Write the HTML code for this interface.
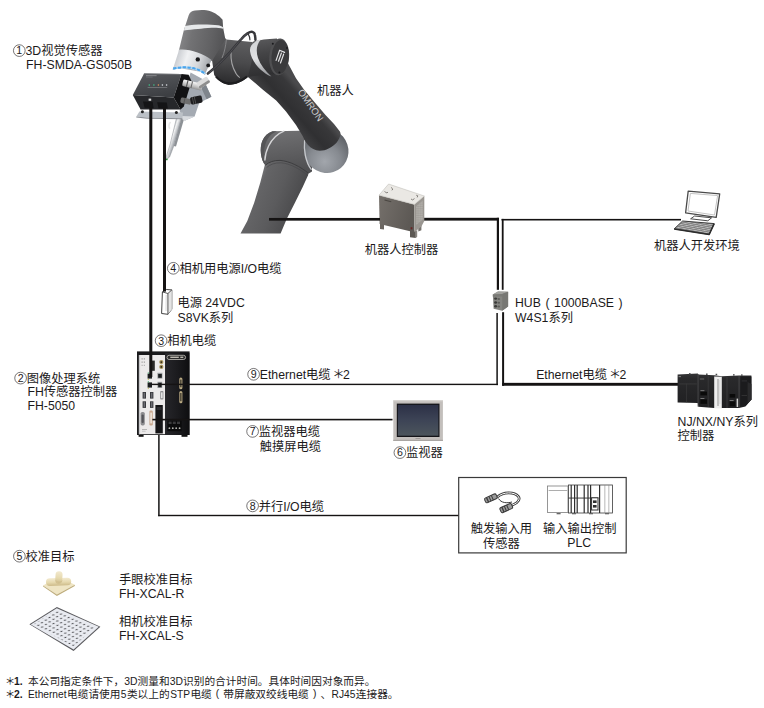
<!DOCTYPE html>
<html lang="zh"><head><meta charset="utf-8"><title>FH 3D vision system configuration</title>
<style>
html,body{margin:0;padding:0;background:#fff}
svg{display:block}
text{font-family:"Liberation Sans","Noto Sans CJK SC",sans-serif;white-space:pre}
</style></head><body>
<svg width="764" height="708" viewBox="0 0 764 708">
<defs>
<linearGradient id="fhb" x1="0" x2="1" y1="0" y2="0"><stop offset="0" stop-color="#26262a"/><stop offset="0.5" stop-color="#1b1b1e"/><stop offset="1" stop-color="#0e0e10"/></linearGradient>
<linearGradient id="rcf" x1="0" x2="1" y1="0" y2="0.3"><stop offset="0" stop-color="#75706b"/><stop offset="1" stop-color="#5d5955"/></linearGradient>
<pattern id="vent" width="1.6" height="1.8" patternUnits="userSpaceOnUse"><rect width="1.6" height="1.8" fill="#8f8b86"/><rect x="0.3" y="0.3" width="0.9" height="1.0" fill="#e6e4e0"/></pattern>
<pattern id="kb" width="1.9" height="1.5" patternUnits="userSpaceOnUse" patternTransform="skewX(-38) rotate(9)"><rect width="1.9" height="1.5" fill="#5a5a5a"/><rect x="0.3" y="0.25" width="1.35" height="0.95" fill="#e6e6e6"/></pattern>
<linearGradient id="plc" x1="0" x2="0" y1="0" y2="1"><stop offset="0" stop-color="#343436"/><stop offset="0.15" stop-color="#29292b"/><stop offset="1" stop-color="#1f1f21"/></linearGradient>
<linearGradient id="scr" x1="0" x2="0" y1="0" y2="1"><stop offset="0" stop-color="#2c3046"/><stop offset="0.5" stop-color="#3d4456"/><stop offset="1" stop-color="#4c555c"/></linearGradient>
<radialGradient id="bg1" cx="0.45" cy="0.35" r="0.7"><stop offset="0" stop-color="#f6ecd0"/><stop offset="1" stop-color="#d9c89a"/></radialGradient>
<linearGradient id="bg2" x1="0" x2="0" y1="0" y2="1"><stop offset="0" stop-color="#f3ead0"/><stop offset="0.55" stop-color="#e6d9ae"/><stop offset="1" stop-color="#cdbb8a"/></linearGradient>
<pattern id="dots" width="4.45" height="4.7" patternUnits="userSpaceOnUse" patternTransform="matrix(0.87 0.39 -0.80 0.55 30.6 624.0)"><rect width="4.45" height="4.7" fill="#e9ebf1"/><circle cx="2.2" cy="2.35" r="0.9" fill="#47474b"/></pattern>
<linearGradient id="lowg" gradientUnits="userSpaceOnUse" x1="251" y1="198" x2="296" y2="216"><stop offset="0" stop-color="#747476"/><stop offset="0.1" stop-color="#646466"/><stop offset="0.5" stop-color="#5b5b5d"/><stop offset="0.85" stop-color="#4e4e50"/><stop offset="1" stop-color="#444446"/></linearGradient>
<linearGradient id="upg" gradientUnits="userSpaceOnUse" x1="268" y1="112" x2="298" y2="86"><stop offset="0" stop-color="#5e5e60"/><stop offset="0.16" stop-color="#424244"/><stop offset="0.5" stop-color="#303032"/><stop offset="0.85" stop-color="#38383a"/><stop offset="1" stop-color="#4a4a4c"/></linearGradient>
<radialGradient id="ballg" gradientUnits="userSpaceOnUse" cx="318" cy="158" r="32"><stop offset="0" stop-color="#a2a6ac"/><stop offset="0.5" stop-color="#868a90"/><stop offset="1" stop-color="#5a5d62"/></radialGradient>
<linearGradient id="elbg" gradientUnits="userSpaceOnUse" x1="280" y1="131" x2="286" y2="172"><stop offset="0" stop-color="#707072"/><stop offset="0.4" stop-color="#636365"/><stop offset="1" stop-color="#505052"/></linearGradient>
<linearGradient id="j5g" gradientUnits="userSpaceOnUse" x1="262" y1="38" x2="268" y2="76"><stop offset="0" stop-color="#5a5a5c"/><stop offset="0.4" stop-color="#444446"/><stop offset="1" stop-color="#2e2e30"/></linearGradient>
<linearGradient id="wrg" gradientUnits="userSpaceOnUse" x1="182" y1="30" x2="224" y2="38"><stop offset="0" stop-color="#858587"/><stop offset="0.25" stop-color="#727274"/><stop offset="0.7" stop-color="#626264"/><stop offset="1" stop-color="#545456"/></linearGradient>
<linearGradient id="flg" gradientUnits="userSpaceOnUse" x1="175" y1="56" x2="212" y2="68"><stop offset="0" stop-color="#c4c7cc"/><stop offset="0.3" stop-color="#f0f1f3"/><stop offset="0.62" stop-color="#d6d8db"/><stop offset="1" stop-color="#93969b"/></linearGradient>
<linearGradient id="nkg" gradientUnits="userSpaceOnUse" x1="236" y1="40" x2="232" y2="84"><stop offset="0" stop-color="#5e5e60"/><stop offset="0.5" stop-color="#4a4a4c"/><stop offset="1" stop-color="#2a2a2c"/></linearGradient>
<linearGradient id="rng" gradientUnits="userSpaceOnUse" x1="255" y1="40" x2="262" y2="76"><stop offset="0" stop-color="#d2d4d6"/><stop offset="0.5" stop-color="#e2e3e5"/><stop offset="1" stop-color="#96989c"/></linearGradient>
<linearGradient id="toolg" gradientUnits="userSpaceOnUse" x1="170" y1="135" x2="176" y2="137"><stop offset="0" stop-color="#b4b8bc"/><stop offset="0.45" stop-color="#f1f2f3"/><stop offset="1" stop-color="#a9adb2"/></linearGradient>
<linearGradient id="sng" gradientUnits="userSpaceOnUse" x1="150" y1="74" x2="154" y2="97"><stop offset="0" stop-color="#55575b"/><stop offset="1" stop-color="#3d3f43"/></linearGradient>
<linearGradient id="cng" gradientUnits="userSpaceOnUse" x1="0" y1="80" x2="0" y2="88"><stop offset="0" stop-color="#f0f0f0"/><stop offset="0.5" stop-color="#b9b9b9"/><stop offset="1" stop-color="#6e6e6e"/></linearGradient>
</defs>
<g id="cables">
<rect x="424.00" y="217.80" width="75.00" height="2.80" fill="#151313"/>
<rect x="496.80" y="217.80" width="2.20" height="72.00" fill="#151313"/>
<rect x="496.35" y="313.00" width="1.50" height="72.10" fill="#151313"/>
<rect x="501.50" y="218.90" width="179.50" height="1.60" fill="#151313"/>
<rect x="501.80" y="218.90" width="1.80" height="70.90" fill="#151313"/>
<rect x="502.10" y="312.20" width="2.00" height="73.60" fill="#151313"/>
<rect x="502.20" y="382.85" width="175.80" height="2.90" fill="#151313"/>
<rect x="158.15" y="431.00" width="1.50" height="85.20" fill="#151313"/>
<rect x="158.20" y="514.80" width="300.80" height="1.40" fill="#151313"/>
</g>
<g id="psu">
<polygon points="162.4,291.9 166.3,289.5 171.8,289.9 171.8,309.2 167.9,314.3 161.6,313.5" fill="#fff" stroke="#2e2e2e" stroke-width="0.9" stroke-linejoin="round"/>
<polygon points="167.9,293.5 171.8,289.9 171.8,309.2 167.9,314.3" fill="#e4e4e4"/>
<path d="M162.4 291.9L167.9 293.5L167.9 314.3M167.9 293.5L171.8 289.9" fill="none" stroke="#2e2e2e" stroke-width="0.8" stroke-linejoin="round"/>
<path d="M166.2 295 L166.0 311" fill="none" stroke="#bdbdbd" stroke-width="0.6"/>
</g>
<g id="fh5050">
<rect x="137.00" y="351.40" width="52.60" height="83.60" fill="#1a1a1c"/>
<rect x="138.60" y="434.50" width="5.00" height="2.30" fill="#111"/>
<rect x="181.50" y="434.50" width="6.00" height="2.30" fill="#111"/>
<rect x="138.90" y="355.00" width="26.20" height="79.20" fill="#eceaea"/>
<rect x="165.30" y="353.00" width="24.00" height="82.00" fill="url(#fhb)"/>
<rect x="138.90" y="355.00" width="1.20" height="79.20" fill="#c9c9cb"/>
<rect x="167.0" y="355.3" width="18.6" height="4.2" rx="2.1" fill="#2a2a2a" stroke="#d9d6cf" stroke-width="0.7"/>
<rect x="170.30" y="356.60" width="8.50" height="1.40" fill="#bdb9b0"/>
<rect x="180.30" y="356.60" width="3.00" height="1.40" fill="#bdb9b0"/>
<rect x="179.3" y="377.6" width="3.1" height="11.6" rx="1.5" fill="#b9a982"/>
<rect x="179.3" y="391.0" width="3.1" height="12.2" rx="1.5" fill="#b9a982"/>
<rect x="180.20" y="379.60" width="1.30" height="7.60" fill="#3b362a"/>
<rect x="180.20" y="393.00" width="1.30" height="8.20" fill="#3b362a"/>
<rect x="141.60" y="358.40" width="1.00" height="1.00" fill="#777"/>
<rect x="143.80" y="358.40" width="1.00" height="1.00" fill="#777"/>
<rect x="141.60" y="361.60" width="1.00" height="1.00" fill="#777"/>
<rect x="143.80" y="361.60" width="1.00" height="1.00" fill="#777"/>
<rect x="141.60" y="364.80" width="1.00" height="1.00" fill="#999"/>
<rect x="143.80" y="364.80" width="1.00" height="1.00" fill="#999"/>
<rect x="151.60" y="360.60" width="3.20" height="10.20" fill="#2a2a28"/>
<circle cx="161.3" cy="362.1" r="2.1" fill="#a8945a"/><circle cx="161.3" cy="362.1" r="0.9" fill="#2a241a"/>
<circle cx="161.3" cy="366.9" r="2.1" fill="#a8945a"/><circle cx="161.3" cy="366.9" r="0.9" fill="#2a241a"/>
<rect x="147.60" y="373.60" width="4.40" height="5.00" fill="#1c1e20"/>
<rect x="157.40" y="372.80" width="5.00" height="5.80" fill="#9a9c9e"/>
<rect x="158.20" y="374.00" width="3.60" height="3.80" fill="#1c1e20"/>
<rect x="147.60" y="382.40" width="4.40" height="5.20" fill="#1c1e20"/>
<rect x="157.40" y="381.80" width="4.80" height="6.20" fill="#9a9c9e"/>
<rect x="158.20" y="382.80" width="3.40" height="4.40" fill="#1c1e20"/>
<rect x="147.80" y="372.40" width="1.00" height="1.10" fill="#3aa86a"/>
<rect x="147.80" y="378.80" width="1.00" height="1.00" fill="#b9b040"/>
<rect x="147.80" y="381.20" width="1.00" height="1.10" fill="#3aa86a"/>
<rect x="147.80" y="387.80" width="1.00" height="1.00" fill="#b9b040"/>
<rect x="142.60" y="392.00" width="3.40" height="6.60" fill="#3a3a3e"/>
<rect x="143.60" y="392.80" width="1.40" height="5.00" fill="#6d6d73"/>
<rect x="150.00" y="392.00" width="3.40" height="6.60" fill="#3a3a3e"/>
<rect x="151.00" y="392.80" width="1.40" height="5.00" fill="#6d6d73"/>
<rect x="142.60" y="401.30" width="3.40" height="6.60" fill="#3a3a3e"/>
<rect x="143.60" y="402.10" width="1.40" height="5.00" fill="#6d6d73"/>
<rect x="150.00" y="401.30" width="3.40" height="6.60" fill="#3a3a3e"/>
<rect x="151.00" y="402.10" width="1.40" height="5.00" fill="#6d6d73"/>
<rect x="160.2" y="391.0" width="3.2" height="8.6" rx="0.8" fill="#8f8f92"/>
<rect x="161.00" y="392.40" width="1.60" height="5.80" fill="#e3e3e3"/>
<rect x="140.6" y="412.0" width="4.2" height="13.4" rx="1.6" fill="#8d8d90"/>
<rect x="141.6" y="414.4" width="2.2" height="8.6" rx="1.0" fill="#55555a"/>
<rect x="149.4" y="410.6" width="3.4" height="14.8" rx="1.2" fill="#c9a98f"/>
<rect x="150.30" y="412.60" width="1.60" height="10.80" fill="#efe6dc"/>
<rect x="155.40" y="405.00" width="7.40" height="28.40" fill="#151517"/>
<rect x="156.60" y="407.00" width="5.00" height="3.00" fill="#2c2c30"/>
<rect x="142.00" y="429.00" width="5.00" height="0.80" fill="#aaa"/>
<rect x="142.00" y="430.80" width="3.60" height="0.80" fill="#bbb"/>
<rect x="167.40" y="420.60" width="14.20" height="10.60" fill="#0b0b0c"/>
<rect x="168.60" y="421.60" width="3.00" height="2.40" fill="#3a3a3c"/>
<rect x="172.80" y="421.60" width="3.00" height="2.40" fill="#3a3a3c"/>
<rect x="177.00" y="421.60" width="3.00" height="2.40" fill="#3a3a3c"/>
<circle cx="169.4" cy="428.2" r="0.9" fill="#b9b9b4"/>
<circle cx="172.8" cy="428.2" r="0.9" fill="#b9b9b4"/>
<circle cx="176.2" cy="428.2" r="0.9" fill="#b9b9b4"/>
<circle cx="179.6" cy="428.2" r="0.9" fill="#b9b9b4"/>
</g>
<g id="robotctrl">
<polygon points="380.0,222.5 384.0,223.5 384.0,229.6 380.0,229.0" fill="#6b6661"/>
<polygon points="410.0,229.5 415.8,231.0 415.8,238.0 410.0,237.2" fill="#5c5853"/>
<polygon points="418.3,226.0 421.4,223.8 421.4,230.2 418.3,231.4" fill="#77736e"/>
<polygon points="415.8,231.0 417.2,230.0 417.2,236.8 415.8,238.0" fill="#8a8681"/>
<polygon points="379.0,195.2 414.3,204.4 414.3,232.3 379.6,224.0" fill="url(#rcf)"/>
<polygon points="414.3,204.4 424.3,196.0 424.3,221.0 421.4,226.6 414.3,232.3" fill="#9a9691"/>
<polygon points="416.2,206.2 422.8,200.6 422.8,219.4 416.2,225.0" fill="url(#vent)"/>
<polygon points="379.0,195.2 388.6,184.0 424.3,196.0 414.3,204.4" fill="#eae8e4" stroke="#b9b6b0" stroke-width="0.5"/>
<path d="M384.6 191.2l1.6 1.7 1.8 -0.6M391.0 187.4l1.8 1.6 -0.9 1.3M411.0 199.0l1.6 0.9 1.9 -1.3M416.2 195.2l1.6 0.6 -0.6 1.6" fill="none" stroke="#5a5651" stroke-width="0.7"/>
<rect x="384.60" y="199.60" width="7.00" height="1.00" fill="#4a4642" transform="rotate(14.6 384.6 199.6)"/>
<rect x="410.60" y="227.20" width="1.80" height="2.20" fill="#6a2626"/>
</g>
<g id="hub">
<polygon points="492.8,294.4 498.0,291.4 508.1,291.8 508.1,306.4 502.2,310.8 493.6,308.8" fill="#858581"/>
<polygon points="492.8,294.4 498.0,291.4 508.1,291.8 502.2,294.0" fill="#a2a29e"/>
<polygon points="502.2,294.0 508.1,291.8 508.1,306.4 502.2,310.8" fill="#787874"/>
<polygon points="492.8,294.4 502.2,294.0 502.2,296.4 492.9,296.8" fill="#7a7a76"/>
<ellipse cx="495.6" cy="298.6" rx="1.5" ry="1.2" fill="#3a3a38"/>
<ellipse cx="498.8" cy="298.9" rx="1.3" ry="1.0" fill="#5e5e5a"/>
<ellipse cx="495.6" cy="302.5" rx="1.5" ry="1.2" fill="#3a3a38"/>
<ellipse cx="498.8" cy="302.8" rx="1.3" ry="1.0" fill="#5e5e5a"/>
<ellipse cx="495.6" cy="306.2" rx="1.5" ry="1.2" fill="#3a3a38"/>
<ellipse cx="498.8" cy="306.5" rx="1.3" ry="1.0" fill="#5e5e5a"/>
</g>
<g id="pc">
<polygon points="688.2,191.2 719.7,193.8 716.2,217.4 685.6,212.8" fill="#fff" stroke="#4a4a4a" stroke-width="1.3" stroke-linejoin="round"/>
<polygon points="690.4,193.4 717.6,195.6 714.5,215.0 688.0,211.0" fill="#fff" stroke="#b5b5b5" stroke-width="0.8" stroke-linejoin="round"/>
<polygon points="694.6,216.0 711.6,217.8 707.8,220.8 690.6,218.8" fill="#fff" stroke="#4a4a4a" stroke-width="1.0" stroke-linejoin="round"/>
<polygon points="682.6,221.0 714.2,223.6 709.2,234.4 674.2,228.9" fill="url(#kb)" stroke="#3c3c3c" stroke-width="1.0" stroke-linejoin="round"/>
<path d="M674.2 228.9L709.2 234.4L714.2 223.6" fill="none" stroke="#2c2c2c" stroke-width="1.5" stroke-linejoin="round"/>
</g>
<g id="njplc">
<polygon points="677.6,374.4 697.8,373.6 698.3,374.6 714.2,375.2 721.8,376.2 738.9,375.4 751.4,375.4 751.4,399.4 745.4,406.4 738.9,408.0 714.2,408.0 698.3,406.8 697.8,402.9 677.6,402.6" fill="url(#plc)"/>
<polygon points="714.2,376.6 721.8,376.8 721.8,408.6 714.2,408.2" fill="#eeeeee"/>
<rect x="717.40" y="379.00" width="1.20" height="27.00" fill="#a5a5a5"/>
<rect x="719.60" y="380.00" width="0.60" height="24.00" fill="#c9c9c9"/>
<rect x="697.60" y="374.00" width="0.90" height="32.60" fill="#4a4a4c"/>
<rect x="707.80" y="376.00" width="0.70" height="31.00" fill="#3c3c3e"/>
<rect x="726.60" y="377.00" width="0.80" height="31.00" fill="#3e3e40"/>
<rect x="738.60" y="376.00" width="0.90" height="31.60" fill="#4a4a4c"/>
<rect x="678.80" y="383.60" width="18.00" height="0.70" fill="#3f3f41"/>
<rect x="686.20" y="383.60" width="0.70" height="18.60" fill="#38383a"/>
<rect x="678.60" y="376.20" width="2.40" height="0.90" fill="#8a8a8a"/>
<rect x="699.80" y="378.60" width="4.40" height="0.80" fill="#7a7a7a"/>
<rect x="700.40" y="391.60" width="6.60" height="3.80" fill="#0a0a0a"/>
<rect x="700.40" y="399.40" width="6.60" height="4.40" fill="#0a0a0a"/>
<rect x="700.40" y="390.40" width="4.00" height="0.70" fill="#9a9a9a"/>
<rect x="700.40" y="398.20" width="4.00" height="0.70" fill="#9a9a9a"/>
<rect x="729.60" y="394.00" width="5.60" height="3.60" fill="#0a0a0a"/>
<rect x="729.60" y="401.60" width="5.60" height="4.60" fill="#0a0a0a"/>
<rect x="729.60" y="400.20" width="4.00" height="0.70" fill="#9a9a9a"/>
<rect x="736.60" y="398.60" width="1.50" height="8.40" fill="#cfcfcf"/>
<polygon points="740.6,376.4 751.4,376.4 751.4,399.4 746.0,405.6 740.6,405.6" fill="#1b1b1d"/>
<polygon points="747.6,382.0 751.4,384.0 751.4,399.4 747.6,403.6" fill="#2a2a2c"/>
<rect x="741.60" y="380.60" width="5.40" height="0.70" fill="#3a3a3c"/>
<rect x="741.60" y="395.00" width="5.40" height="0.70" fill="#3a3a3c"/>
<rect x="689.00" y="373.10" width="1.60" height="1.40" fill="#4c4c4e"/>
<rect x="706.00" y="373.53" width="1.60" height="1.40" fill="#4c4c4e"/>
<rect x="715.60" y="373.76" width="1.60" height="1.40" fill="#4c4c4e"/>
<rect x="733.00" y="374.20" width="1.60" height="1.40" fill="#4c4c4e"/>
<rect x="741.00" y="374.40" width="1.60" height="1.40" fill="#4c4c4e"/>
</g>
<g id="monitor">
<rect x="393.30" y="400.30" width="49.60" height="40.70" fill="#c3bfbc"/>
<rect x="393.30" y="400.30" width="49.60" height="1.00" fill="#d9d6d3"/>
<rect x="393.30" y="439.80" width="49.60" height="1.20" fill="#a9a5a2"/>
<rect x="396.80" y="403.60" width="42.70" height="33.40" fill="#141418"/>
<rect x="397.90" y="404.90" width="40.50" height="30.80" fill="url(#scr)"/>
<rect x="415.50" y="438.00" width="5.00" height="0.90" fill="#9a9693"/>
</g>
<g id="optbox">
<rect x="458.7" y="477.5" width="167.5" height="75.4" fill="#fff" stroke="#3a3a3a" stroke-width="1.2"/>
<path d="M497.6 496.8C503 491.6 514.5 491.6 518.3 496.4C521.6 500.8 514.6 505.6 506.6 506.2" fill="none" stroke="#3a3a3a" stroke-width="2.6" stroke-linecap="round"/>
<path d="M497.6 496.8C503 491.6 514.5 491.6 518.3 496.4C521.6 500.8 514.6 505.6 506.6 506.2" fill="none" stroke="#fff" stroke-width="1.0" stroke-linecap="round"/>
<path d="M498.6 498.6C501 503.0 507 503.4 512.0 502.0" fill="none" stroke="#3a3a3a" stroke-width="1.0"/>
<g transform="rotate(-24 490.8 498.4)"><rect x="484.6" y="495.8" width="12.6" height="5.2" rx="1.6" fill="#9a9a9a" stroke="#3a3a3a" stroke-width="1.0"/><rect x="486.6" y="495.8" width="1.3" height="5.2" fill="#3a3a3a"/><rect x="489.4" y="495.8" width="1.0" height="5.2" fill="#3a3a3a"/><rect x="492.0" y="495.8" width="1.0" height="5.2" fill="#3a3a3a"/></g>
<g transform="rotate(-24 506.2 508.2)"><rect x="500.0" y="505.4" width="12.6" height="5.4" rx="1.6" fill="#9a9a9a" stroke="#3a3a3a" stroke-width="1.0"/><rect x="502.0" y="505.4" width="1.3" height="5.4" fill="#3a3a3a"/><rect x="504.8" y="505.4" width="1.0" height="5.4" fill="#3a3a3a"/><rect x="507.4" y="505.4" width="1.0" height="5.4" fill="#3a3a3a"/></g>
<rect x="547.4" y="486.0" width="20.6" height="26.4" stroke="#7c7c7c" stroke-width="0.8" fill="#fff"/>
<rect x="548.6" y="490.4" width="18.6" height="0.6" fill="#777"/>
<rect x="568.4" y="485.0" width="44.0" height="28.0" stroke="#3a3a3a" stroke-width="0.8" fill="#fff"/>
<rect x="570.6" y="485.0" width="1.2" height="28.0" fill="#2e2e2e"/>
<rect x="574.0" y="485.0" width="1.2" height="28.0" fill="#2e2e2e"/>
<rect x="576.6" y="485.0" width="1.2" height="28.0" fill="#2e2e2e"/>
<rect x="583.6" y="485.0" width="1.2" height="28.0" fill="#2e2e2e"/>
<rect x="587.4" y="485.0" width="1.2" height="28.0" fill="#2e2e2e"/>
<rect x="590.0" y="485.0" width="1.2" height="28.0" fill="#2e2e2e"/>
<rect x="599.0" y="485.0" width="1.2" height="28.0" fill="#2e2e2e"/>
<rect x="568.4" y="497.6" width="30.0" height="0.9" fill="#2e2e2e"/>
<rect x="591.6" y="497.8" width="6.4" height="12.2" fill="#fff" stroke="#2e2e2e" stroke-width="1.0"/>
<rect x="593.0" y="500.4" width="3.6" height="2.6" fill="#2e2e2e"/><rect x="593.0" y="505.0" width="3.6" height="2.6" fill="#2e2e2e"/>
<rect x="604.6" y="485.0" width="0.6" height="28.0" fill="#888"/><rect x="608.6" y="485.0" width="0.6" height="28.0" fill="#888"/>
<rect x="556.6" y="513.0" width="4.0" height="1.3" fill="#666"/>
<rect x="572.0" y="513.0" width="4.0" height="1.3" fill="#666"/>
<rect x="589.0" y="513.0" width="4.0" height="1.3" fill="#666"/>
<rect x="605.0" y="513.0" width="4.0" height="1.3" fill="#666"/>
</g>
<g id="caltargets">
<polygon points="43.1,585.4 58.4,576.6 74.8,584.7 56.9,594.6" fill="#efe5c4"/>
<polygon points="43.1,585.4 56.9,594.6 74.8,584.7 74.8,585.9 56.9,596.0 43.1,586.6" fill="#bfad7c"/>
<g transform="rotate(-2 58.6 581.8)"><rect x="46.0" y="578.0" width="25.2" height="7.6" rx="3.8" fill="url(#bg2)"/></g>
<g transform="rotate(4 58.9 577)"><rect x="55.4" y="571.2" width="7.0" height="12.6" rx="3.5" fill="url(#bg2)"/></g>
<path d="M55.6 580.6 C57.6 582.6 60.6 582.6 62.4 580.8" fill="none" stroke="#cdbb8a" stroke-width="0.6"/>
<polygon points="29.4,624.2 56.9,607.0 100.4,626.8 73.6,651.0" fill="#5a5a5e"/>
<polygon points="30.8,624.4 56.8,608.2 98.8,626.8 73.6,649.6" fill="#e9ebf1"/>
<polygon points="33.5,624.5 56.6,609.8 95.6,626.7 73.4,646.6" fill="url(#dots)"/>
</g>
<g id="robot">
<path d="M264.8 165.1 L270 150 L304 150 L308.3 174.7 L302.7 187.1 L294.8 202.9 L286.8 218.8 L280.6 233.4 L240.5 233.4 L247.3 221 L254.1 202.9 L260.3 182.6 Z" fill="url(#lowg)"/>
<path d="M272.6 131.3 L299.7 130.7 L312 140 L312 171.6 L308.8 173.4 C300 166.5 290 161.2 280 160.4 C274 160.2 269 162 265.4 165.2 C260.6 160 259.4 148 262.3 141 C264.4 136 268 133 272.6 131.3 Z" fill="url(#elbg)"/>
<path d="M272.6 131.3 C268 133 264.4 136 262.3 141 C259.4 148 260.6 160 265.4 165.2 C262.6 158 263.6 146 267.6 139 C270 135 273.6 132.4 277 131.2 Z" fill="#555557"/>
<path d="M283.9 131.2 C277 134 271.6 140 268.6 146 C266.2 151 265 156 264.9 160" fill="none" stroke="#d6d6d8" stroke-width="1.4" stroke-linecap="round"/>
<path d="M265.4 165.2 C269 162 274 160.2 280 160.4 C290 161.2 300 166.5 308.8 173.4" fill="none" stroke="#3e3e40" stroke-width="1.0"/>
<path d="M266.6 167.6 C270 164.4 275 162.6 281 162.8 C290 163.6 299 168.4 307.6 175.4" fill="none" stroke="#48484a" stroke-width="0.7"/>
<ellipse cx="326.2" cy="150.6" rx="21.9" ry="22.8" fill="url(#ballg)" transform="rotate(-40 326.2 150.6)"/>
<path d="M304.6 140.6 C303.6 150 305.6 162 311.2 169.4" fill="none" stroke="#c6c8cc" stroke-width="1.3" stroke-linecap="round"/>
<path d="M247.9 76.9 L262.6 89.4 L276.2 100.4 L286 111.6 L296 124.9 L302.8 136.2 C304.6 140 306 142.6 307.8 144.7 C311 148.4 315 150.6 319.7 150.8 C323 150.8 326 150 328.6 148.6 C332 146.8 334.6 144.8 336.5 142.7 C338.6 140 339.8 137.4 340.4 134.8 C340.8 133 340.2 132 339.5 131 L334 124 L325.5 115 L315.2 103 L303.9 89.5 L296 78.2 L288.1 63.6 L270 60 Z" fill="url(#upg)"/>
<path d="M223.6 36 L226.2 39.4 L252.4 41.9 L258 70 L247.9 76.9 C243 81 236 84.6 228.4 85 C222 84 217 79 214.2 75.1 L212 60 Z" fill="url(#nkg)"/>
<path d="M231.0 52 C230.6 60 232.6 68 236.0 73.4 C237 75.2 238.4 76.6 239.8 77.6" fill="none" stroke="#a4a4a6" stroke-width="1.1"/>
<path d="M226.4 39.6 C225.6 46 224.6 52 222 58" fill="none" stroke="#8a8a8c" stroke-width="0.9"/>
<path d="M216 76.6 C221 82.4 228 84.6 236 82.6 C240 81.4 244 79 247 76.6" fill="none" stroke="#1e1e20" stroke-width="2.2"/>
<path d="M252.4 41.9 C258 40 266 38.8 276.8 38.4 L288 56 L279.7 74.2 L266.5 74.4 L247.9 76.9 L252 60 Z" fill="url(#j5g)"/>
<path d="M258.2 40.1 C252 43 249.4 47 250.1 51.4 C251 58.6 256 66 263.6 72 C266 74 268.6 75.6 271.4 76.6 C265.4 71 260.4 64.6 258.0 58 C255.8 51 256.4 44.6 260.8 39.5 Z" fill="url(#rng)"/>
<g transform="rotate(4 279.2 56.8)"><ellipse cx="279.2" cy="56.8" rx="9.9" ry="18.4" fill="#505052"/><ellipse cx="280.2" cy="56.9" rx="8.7" ry="17.0" fill="#3a3a3c"/></g>
<path d="M276.1 60.4 L279.6 50.2 L284.6 52.4 M278.5 61.2 L281.4 53.0 M280.5 63.0 L283.7 54.0" fill="none" stroke="#e4e4e6" stroke-width="1.15" stroke-linejoin="round" stroke-linecap="round"/>
<circle cx="272.8" cy="43.8" r="1.0" fill="#1c1c1e"/><circle cx="287.0" cy="48.0" r="1.0" fill="#1c1c1e"/><circle cx="279.4" cy="72.4" r="1.0" fill="#1c1c1e"/>
<g aria-label="OMRON" fill="#cfcfd1" transform="translate(297.60 92.00) rotate(55.5)"><text x="0" y="0" font-size="9.55">OMRON</text></g>
<path d="M188.6 15.4 C189.6 12.4 191.6 11 195 10.5 C199 9.9 203 9.8 206.4 10.3 C213 11.4 218.6 15 222.6 19.7 L223.1 27.5 L225.4 39.4 L212 61 L178.7 51.3 L183.7 30.7 Z" fill="url(#wrg)"/>
<path d="M185.1 26.1 C191 25 197 24.6 202.5 24.6 C209 24.6 214 24.8 218 25.3 C220 25.6 221.6 26.2 223 27.2 L223.1 28.8 C220 27.8 216 27.6 211.7 27.7 C206 28 202 28.6 197.9 29.1 C193 29.6 188 30 183.9 30.4 Z" fill="#e6e8ea"/>
<path d="M179.2 49.6 C189 48.6 203 53 211.6 60 L204.8 74.6 C198 68.6 185 66.4 172.8 69.4 Z" fill="url(#flg)"/>
<circle cx="197.8" cy="59.4" r="2.2" fill="#1a1a1c"/><circle cx="208.2" cy="65.4" r="1.9" fill="#1a1a1c"/>
<path d="M172.6 69.6 C185 66.6 198 68.8 205.0 75.0 L206 72.8 L173.4 67 Z" fill="#aeb2b8"/>
<path d="M173.2 68.8 C185 65.6 198 67.8 205.2 73.8" fill="none" stroke="#a6d4f6" stroke-width="2.0"/>
<path d="M173.2 68.8 C185 65.6 198 67.8 205.2 73.8" fill="none" stroke="#4aa4ec" stroke-width="2.0" stroke-dasharray="3.2 1.6"/>
<path d="M207.9 73.6 C215 68 223 60 229.7 52.7 C234 47.6 238 42.4 241.5 38.8 C244 36 246 34.4 247.5 33.4 C249.4 32.2 251 31.6 252.4 31.9 C254 32.4 254.8 33.6 254.9 34.9 C255.2 36.6 255.4 38 255.4 39.8" fill="none" stroke="#37373b" stroke-width="2.5" stroke-linecap="round"/>
<path d="M208.4 73.2 C215 68 223 60 229.9 52.5 C234 47.6 238 42.4 241.7 38.6 C244 36 246 34.4 247.7 33.2" fill="none" stroke="#6a6a6e" stroke-width="0.5"/>
<path d="M248.4 34.4 C249.4 36 249.8 37.6 249.9 39.8" fill="none" stroke="#37373b" stroke-width="1.2" stroke-linecap="round"/>
</g>
<g id="sensor">
<path d="M177.0 116 L181.6 117.2 L173.8 146 L169.6 157 L166.6 159.6 L166.4 156 L170.2 144 Z" fill="url(#toolg)" stroke="#8a8e94" stroke-width="0.5"/>
<path d="M181.6 117.2 L184.2 118.4 L176 146.6 L173.8 146 Z" fill="#8d9196"/>
<circle cx="166.8" cy="159.4" r="0.9" fill="#2f8f3f"/>
<path d="M170.6 122 C168.6 124 168.4 127 170 128.6" fill="none" stroke="#e8e8e8" stroke-width="1.6"/>
<polygon points="190.6,72.6 203.4,79.6 211.4,96.8 199.2,103.0 194.6,116.4 184.6,120.8 179.6,111.0 186.0,88.0" fill="#a4aab2"/>
<polygon points="203.4,79.6 211.4,96.8 206.6,99.2 199.0,83.0" fill="#7f858c"/>
<polygon points="181.5,116.0 194.6,116.4 184.6,120.8 180.4,118.0" fill="#d8dbdf"/>
<polygon points="139.4,111.4 183.0,112.6 182.4,118.2 147.0,117.6 136.4,116.4" fill="#bcc1c7"/>
<polygon points="136.4,116.4 147.0,117.6 182.4,118.2 182.4,119.2 147.0,118.8 136.2,117.6" fill="#8d9197"/>
<circle cx="142.4" cy="111.8" r="1.5" fill="#222"/><circle cx="176.4" cy="112.6" r="1.5" fill="#222"/>
<polygon points="132.8,95.0 173.7,97.6 180.6,109.6 140.6,109.4" fill="#26272a"/>
<polygon points="144.1,73.4 181.5,74.1 173.7,97.6 132.8,95.0" fill="url(#sng)"/>
<polygon points="144.1,73.4 181.5,74.1 181.2,75.0 143.7,74.3" fill="#6d6f73"/>
<polygon points="173.7,97.6 181.5,74.1 188.6,74.8 191.6,81.2 183.8,106.4 180.6,109.6" fill="#121214"/>
<circle cx="149.3" cy="85.0" r="0.8" fill="#3fc48a"/>
<circle cx="153.9" cy="85.0" r="0.8" fill="#3fc48a"/>
<circle cx="158.4" cy="85.0" r="0.8" fill="#e8935a"/>
<circle cx="162.4" cy="85.0" r="0.8" fill="#dfe3e8"/>
<circle cx="166.6" cy="85.0" r="0.8" fill="#dfe3e8"/>
<rect x="147.60" y="87.20" width="19.60" height="0.60" fill="#8a8c90"/>
<rect x="146.00" y="75.40" width="10.60" height="0.70" fill="#9a9c9f"/>
<rect x="146.00" y="76.80" width="6.60" height="0.50" fill="#7a7c80"/>
<polygon points="143.0,101.4 152.6,101.8 153.6,108.0 144.6,107.8" fill="#141416"/>
<polygon points="157.2,102.2 166.8,102.6 167.8,108.6 158.6,108.4" fill="#141416"/>
<rect x="148.60" y="98.60" width="2.60" height="2.20" fill="#d8d8d8"/>
<g transform="rotate(14 183 83)"><rect x="182.6" y="79.2" width="20.0" height="6.9" rx="1.8" fill="url(#cng)"/><rect x="186.6" y="79.2" width="1.2" height="6.9" fill="#555"/><rect x="191.4" y="79.2" width="1.0" height="6.9" fill="#666"/></g>
<g transform="rotate(-33 202 86)"><rect x="198.6" y="80.2" width="12.6" height="7.0" rx="1.9" fill="#dcdcdc"/><rect x="198.6" y="84.6" width="12.6" height="2.6" rx="1.2" fill="#8e8e8e"/></g>
<g transform="rotate(12 181 100)"><rect x="180.6" y="97.2" width="10.8" height="5.6" rx="1.6" fill="url(#cng)"/><rect x="184.0" y="97.2" width="1.0" height="5.6" fill="#555"/></g>
<g transform="rotate(-12 196 100)"><rect x="190.4" y="96.4" width="11.8" height="7.4" rx="1.6" fill="#1d1d1f"/><rect x="192.6" y="96.4" width="0.8" height="7.4" fill="#555"/><rect x="194.6" y="96.4" width="0.8" height="7.4" fill="#555"/></g>
</g>
<g id="cables2">
<rect x="149.30" y="107.60" width="3.00" height="269.40" fill="#151313"/>
<rect x="163.00" y="107.60" width="3.00" height="184.00" fill="#151313"/>
<rect x="269.00" y="217.95" width="111.00" height="2.70" fill="#151313"/>
<rect x="150.60" y="383.70" width="347.40" height="1.40" fill="#151313"/>
<rect x="152.40" y="418.80" width="240.10" height="1.60" fill="#151313"/>
</g>
<g aria-label="①3D视觉传感器" fill="#1c1a1b"><circle cx="19.30" cy="50.60" r="5.85" fill="none" stroke="#1c1a1b" stroke-width="0.6"/><text x="16.35" y="54.42" font-size="10.60">1</text><text x="25.50" y="55.30" font-size="12.25">3D</text><text x="41.2" y="55.3" font-size="12.25">视觉传感器</text></g>
<g aria-label="FH-SMDA-GS050B" fill="#1c1a1b"><text x="26.10" y="68.60" font-size="12.25">FH-SMDA-GS050B</text></g>
<g aria-label="机器人" fill="#1c1a1b"><text x="317.0" y="95.2" font-size="12.25">机器人</text></g>
<g aria-label="机器人控制器" fill="#1c1a1b"><text x="364.8" y="254.0" font-size="12.25">机器人控制器</text></g>
<g aria-label="④相机用电源I/O电缆" fill="#1c1a1b"><circle cx="173.30" cy="268.30" r="5.85" fill="none" stroke="#1c1a1b" stroke-width="0.6"/><text x="170.35" y="272.12" font-size="10.60">4</text><text x="179.5" y="273.0" font-size="12.25">相机用电源</text><text x="240.75" y="273.00" font-size="12.25">I/O</text><text x="257.1" y="273.0" font-size="12.25">电缆</text></g>
<g aria-label="电源 24VDC" fill="#1c1a1b"><text x="177.4" y="307.3" font-size="12.25">电源</text><text x="201.90" y="307.30" font-size="12.25"> 24VDC</text></g>
<g aria-label="S8VK系列" fill="#1c1a1b"><text x="177.50" y="321.80" font-size="12.25">S8VK</text><text x="208.8" y="321.8" font-size="12.25">系列</text></g>
<g aria-label="③相机电缆" fill="#1c1a1b"><circle cx="161.10" cy="340.70" r="5.85" fill="none" stroke="#1c1a1b" stroke-width="0.6"/><text x="158.15" y="344.52" font-size="10.60">3</text><text x="167.3" y="345.4" font-size="12.25">相机电缆</text></g>
<g aria-label="②图像处理系统" fill="#1c1a1b"><circle cx="20.60" cy="378.10" r="5.85" fill="none" stroke="#1c1a1b" stroke-width="0.6"/><text x="17.65" y="381.92" font-size="10.60">2</text><text x="26.8" y="382.8" font-size="12.25">图像处理系统</text></g>
<g aria-label="FH传感器控制器" fill="#1c1a1b"><text x="27.50" y="396.10" font-size="12.25">FH</text><text x="43.8" y="396.1" font-size="12.25">传感器控制器</text></g>
<g aria-label="FH-5050" fill="#1c1a1b"><text x="27.50" y="410.40" font-size="12.25">FH-5050</text></g>
<g aria-label="⑨Ethernet电缆 ＊2" fill="#1c1a1b"><circle cx="253.60" cy="374.30" r="5.85" fill="none" stroke="#1c1a1b" stroke-width="0.6"/><text x="250.65" y="378.12" font-size="10.60">9</text><text x="259.80" y="379.00" font-size="12.25">Ethernet</text><text x="306.1" y="379.0" font-size="12.25">电缆</text><text x="330.61" y="379.00" font-size="12.25"> </text><text x="332.54" y="379.25" font-size="12">＊</text><text x="343.08" y="379.00" font-size="12.25">2</text></g>
<g aria-label="⑦监视器电缆" fill="#1c1a1b"><circle cx="252.60" cy="431.40" r="5.85" fill="none" stroke="#1c1a1b" stroke-width="0.6"/><text x="249.65" y="435.22" font-size="10.60">7</text><text x="258.8" y="436.1" font-size="12.25">监视器电缆</text></g>
<g aria-label="触摸屏电缆" fill="#1c1a1b"><text x="259.8" y="451.0" font-size="12.25">触摸屏电缆</text></g>
<g aria-label="⑧并行I/O电缆" fill="#1c1a1b"><circle cx="252.60" cy="505.90" r="5.85" fill="none" stroke="#1c1a1b" stroke-width="0.6"/><text x="249.65" y="509.72" font-size="10.60">8</text><text x="258.8" y="510.6" font-size="12.25">并行</text><text x="283.30" y="510.60" font-size="12.25">I/O</text><text x="299.6" y="510.6" font-size="12.25">电缆</text></g>
<g aria-label="⑥监视器" fill="#1c1a1b"><circle cx="399.90" cy="452.60" r="5.85" fill="none" stroke="#1c1a1b" stroke-width="0.6"/><text x="396.95" y="456.42" font-size="10.60">6</text><text x="406.1" y="457.3" font-size="12.25">监视器</text></g>
<g aria-label="HUB（1000BASE）" fill="#1c1a1b"><text x="515.00" y="306.80" font-size="12.25">HUB</text><text x="545.44" y="306.50" font-size="12.25">(</text><text x="554.09" y="306.80" font-size="12.25">1000BASE</text><text x="618.60" y="306.50" font-size="12.25">)</text></g>
<g aria-label="W4S1系列" fill="#1c1a1b"><text x="515.00" y="322.10" font-size="12.25">W4S1</text><text x="548.4" y="322.1" font-size="12.25">系列</text></g>
<g aria-label="Ethernet电缆 ＊2" fill="#1c1a1b"><text x="536.20" y="379.10" font-size="12.25">Ethernet</text><text x="582.5" y="379.1" font-size="12.25">电缆</text><text x="607.01" y="379.10" font-size="12.25"> </text><text x="608.94" y="379.35" font-size="12">＊</text><text x="619.48" y="379.10" font-size="12.25">2</text></g>
<g aria-label="机器人开发环境" fill="#1c1a1b"><text x="654.1" y="250.1" font-size="12.25">机器人开发环境</text></g>
<g aria-label="NJ/NX/NY系列" fill="#1c1a1b"><text x="677.60" y="426.30" font-size="12.25">NJ/NX/NY</text><text x="733.4" y="426.3" font-size="12.25">系列</text></g>
<g aria-label="控制器" fill="#1c1a1b"><text x="677.6" y="440.0" font-size="12.25">控制器</text></g>
<g aria-label="触发输入用" fill="#1c1a1b"><text x="470.7" y="533.0" font-size="12.25">触发输入用</text></g>
<g aria-label="传感器" fill="#1c1a1b"><text x="483.0" y="547.6" font-size="12.25">传感器</text></g>
<g aria-label="输入输出控制" fill="#1c1a1b"><text x="543.1" y="533.0" font-size="12.25">输入输出控制</text></g>
<g aria-label="PLC" fill="#1c1a1b"><text x="567.30" y="546.80" font-size="12.25">PLC</text></g>
<g aria-label="⑤校准目标" fill="#1c1a1b"><circle cx="19.40" cy="556.20" r="5.85" fill="none" stroke="#1c1a1b" stroke-width="0.6"/><text x="16.45" y="560.02" font-size="10.60">5</text><text x="25.6" y="560.9" font-size="12.25">校准目标</text></g>
<g aria-label="手眼校准目标" fill="#1c1a1b"><text x="119.1" y="583.9" font-size="12.25">手眼校准目标</text></g>
<g aria-label="FH-XCAL-R" fill="#1c1a1b"><text x="119.10" y="597.60" font-size="12.25">FH-XCAL-R</text></g>
<g aria-label="相机校准目标" fill="#1c1a1b"><text x="119.1" y="625.8" font-size="12.25">相机校准目标</text></g>
<g aria-label="FH-XCAL-S" fill="#1c1a1b"><text x="119.10" y="639.50" font-size="12.25">FH-XCAL-S</text></g>
<g aria-label="＊1." fill="#1c1a1b"><text x="5.05" y="685.41" font-size="10.19">＊</text><text x="14.00" y="685.20" font-size="10.40" font-weight="700">1.</text></g>
<g aria-label="本公司指定条件下，3D测量和3D识别的合计时间。具体时间因对象而异。" fill="#1c1a1b"><text x="28.0" y="685.2" font-size="10.7">本公司指定条件下，</text><text x="124.30" y="685.20" font-size="10.40">3D</text><text x="137.6" y="685.2" font-size="10.7">测量和</text><text x="169.69" y="685.20" font-size="10.40">3D</text><text x="183.0" y="685.2" font-size="10.7">识别的合计时间。具体时间因对象而异。</text></g>
<g aria-label="＊2." fill="#1c1a1b"><text x="5.05" y="697.71" font-size="10.19">＊</text><text x="14.00" y="697.50" font-size="10.40" font-weight="700">2.</text></g>
<g aria-label="Ethernet电缆请使用5类以上的STP电缆（带屏蔽双绞线电缆）、RJ45连接器。" fill="#1c1a1b"><text x="28.00" y="697.50" font-size="10.20">Ethernet</text><text x="67.0" y="697.5" font-size="10.7">电缆请使用</text><text x="120.86" y="697.50" font-size="10.20">5</text><text x="126.9" y="697.5" font-size="10.7">类以上的</text><text x="170.13" y="697.50" font-size="10.20">STP</text><text x="190.4" y="697.5" font-size="10.7">电缆</text><text x="215.85" y="697.20" font-size="10.20">(</text><text x="223.3" y="697.5" font-size="10.7">带屏蔽双绞线电缆</text><text x="313.00" y="697.20" font-size="10.20">)</text><text x="320.5" y="697.5" font-size="10.7">、</text><text x="331.58" y="697.50" font-size="10.20">RJ45</text><text x="355.8" y="697.5" font-size="10.7">连接器。</text></g>
</svg>
</body></html>
